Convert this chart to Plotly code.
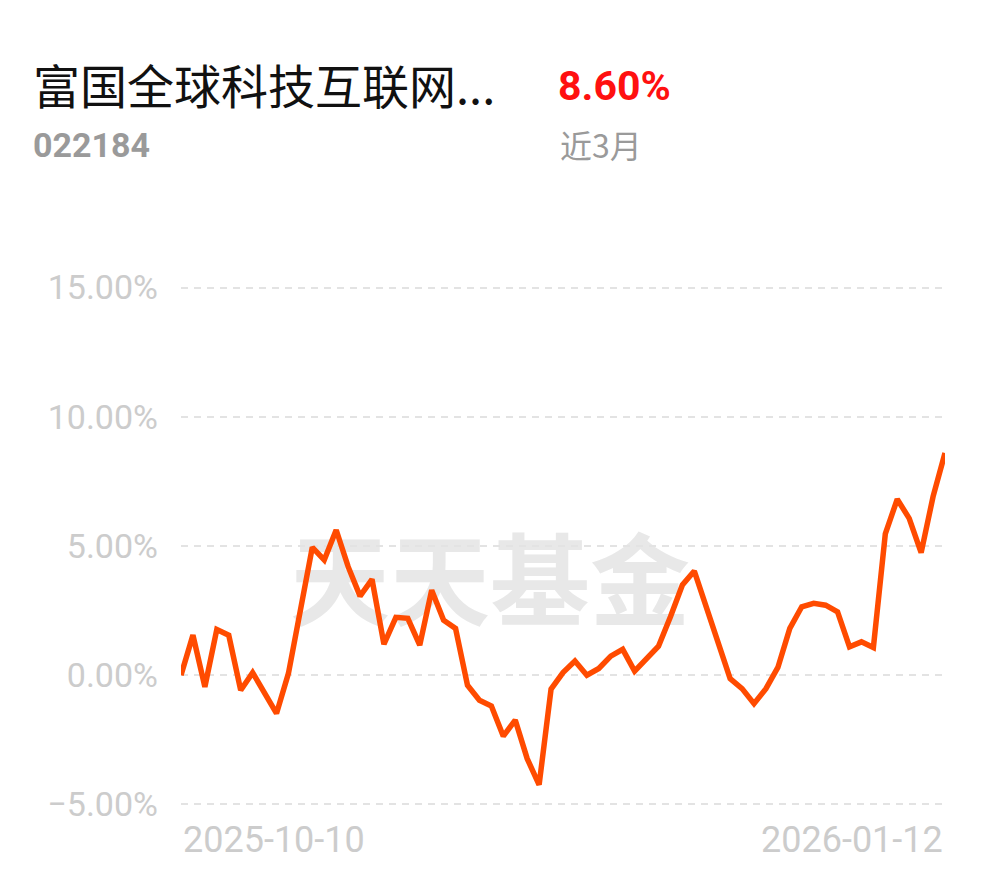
import pandas as pd
import plotly.graph_objects as go

fund_name = "富国全球科技互联网..."
fund_code = "022184"
period_label = "近3月"
period_return = "8.60%"
watermark = "天天基金"

holidays = ["2026-01-01", "2026-01-02"]
dates = [d.strftime("%Y-%m-%d") for d in pd.bdate_range("2025-10-10", "2026-01-12")
         if d.strftime("%Y-%m-%d") not in holidays]

returns = [0.00, 1.55, -0.45, 1.77, 1.55, -0.58, 0.10, -0.69, -1.48, 0.07,
           2.52, 4.95, 4.46, 5.62, 4.20, 3.06, 3.71, 1.20, 2.24, 2.20,
           1.16, 3.29, 2.13, 1.81, -0.39, -0.97, -1.19, -2.36, -1.74, -3.23,
           -4.24, -0.54, 0.10, 0.55, 0.00, 0.26, 0.74, 1.00, 0.16, 0.61,
           1.12, 2.26, 3.49, 4.03, 2.65, 1.36, -0.13, -0.52, -1.10, -0.52,
           0.30, 1.81, 2.65, 2.78, 2.71, 2.45, 1.10, 1.29, 1.07, 5.47,
           6.81, 6.07, 4.74, 6.91, 8.60]

y_ticks = [-5, 0, 5, 10, 15]
y_tick_labels = ["−5.00%", "0.00%", "5.00%", "10.00%", "15.00%"]

# page body has an 8px margin: the figure starts at (8, 8) on screen
OFF = 8
W, H = 990 - OFF, 878 - OFF
PAD = 0.1                       # range padding (units) so edge gridlines show
SCALE = (804 - 288) / 20.0      # px per percent
L, R = 181 - OFF, 945 - OFF
T = 288 - OFF - PAD * SCALE
B = 804 - OFF + PAD * SCALE


def px(x):
    return (x - OFF - L) / (R - L)


def py(y):
    return (B - (y - OFF)) / (B - T)


fig = go.Figure()
fig.add_trace(go.Scatter(
    x=dates, y=returns, mode="lines",
    line=dict(color="#FF4B00", width=5.5),
    hoverinfo="skip", showlegend=False,
))

fig.update_layout(
    width=W, height=H,
    margin=dict(l=L, r=W - R, t=T, b=H - B, pad=0),
    paper_bgcolor="white", plot_bgcolor="white",
    font=dict(family="Roboto, 'Noto Sans CJK SC'"),
    showlegend=False,
    xaxis=dict(type="category", showticklabels=False, showgrid=False,
               zeroline=False, showline=False, ticks="",
               range=[0, len(dates) - 1]),
    yaxis=dict(range=[-5 - PAD, 15 + PAD], tickvals=y_ticks, ticktext=y_tick_labels,
               showgrid=True, gridcolor="#e3e3e3", gridwidth=2, griddash="7px,6px",
               zeroline=False, showline=False, ticks="",
               ticklabelstandoff=22,
               tickfont=dict(family="Roboto", size=34, color="#cccccc")),
    shapes=[dict(type="rect", xref="paper", yref="paper",
                 x0=px(280), x1=px(700), y0=py(640), y1=py(540),
                 line=dict(width=0), fillcolor="rgba(0,0,0,0)", layer="below",
                 label=dict(text=watermark, textposition="middle center",
                            font=dict(family="Noto Sans CJK SC", size=100,
                                      color="#e8e8e8", weight="bold")))],
    annotations=[
        dict(text=fund_name, xref="paper", yref="paper", x=px(31), y=py(84),
             xanchor="left", yanchor="middle", showarrow=False,
             font=dict(family="Noto Sans CJK SC", size=47, color="#111111")),
        dict(text=fund_code, xref="paper", yref="paper", x=px(31), y=py(146),
             xanchor="left", yanchor="middle", showarrow=False,
             font=dict(family="Roboto", size=34, color="#9a9a9a", weight="bold")),
        dict(text=period_return, xref="paper", yref="paper", x=px(556), y=py(87),
             xanchor="left", yanchor="middle", showarrow=False,
             font=dict(family="Roboto", size=41, color="#ff1010", weight="bold")),
        dict(text=period_label, xref="paper", yref="paper", x=px(558), y=py(145),
             xanchor="left", yanchor="middle", showarrow=False,
             font=dict(family="Noto Sans CJK SC", size=32, color="#9a9a9a")),
        dict(text=dates[0], xref="paper", yref="paper", x=0, y=py(840),
             xanchor="left", yanchor="middle", showarrow=False,
             font=dict(family="Roboto", size=36, color="#cccccc")),
        dict(text=dates[-1], xref="paper", yref="paper", x=1, y=py(840),
             xanchor="right", yanchor="middle", showarrow=False,
             font=dict(family="Roboto", size=36, color="#cccccc")),
    ],
)

fig.write_html("out.html")
